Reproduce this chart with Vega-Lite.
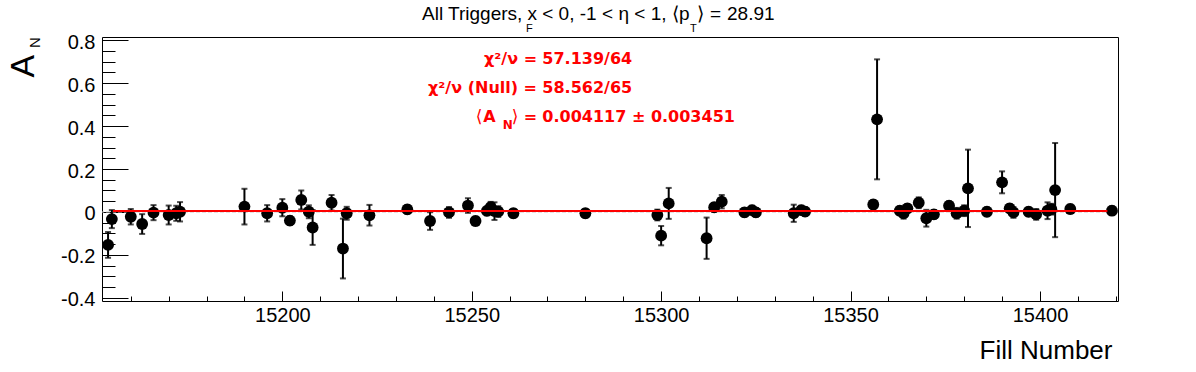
{
  "$schema": "https://vega.github.io/schema/vega-lite/v6.json",
  "autosize": "none",
  "width": 1016,
  "height": 264,
  "padding": {"left": 102, "top": 37, "right": 78, "bottom": 71},
  "background": "white",
  "config": {
    "view": {"stroke": "black", "strokeWidth": 1},
    "axis": {"grid": false, "domain": false, "tickColor": "black", "tickWidth": 1, "labelColor": "black", "labelFont": "Liberation Sans", "labelFontSize": 20, "titleColor": "black", "titleFont": "Liberation Sans", "titleFontWeight": "normal", "labelOverlap": false, "labelFlush": false}
  },
  "resolve": {"axis": {"x": "independent", "y": "independent"}},
  "data": {"values": [
    {"fill": 15154, "an": -0.153, "err": 0.06},
    {"fill": 15155, "an": -0.033, "err": 0.042},
    {"fill": 15160, "an": -0.022, "err": 0.036},
    {"fill": 15163, "an": -0.056, "err": 0.046},
    {"fill": 15166, "an": -0.003, "err": 0.035},
    {"fill": 15170, "an": -0.014, "err": 0.044},
    {"fill": 15172, "an": -0.006, "err": 0.035},
    {"fill": 15173, "an": 0.001, "err": 0.045},
    {"fill": 15190, "an": 0.025, "err": 0.083},
    {"fill": 15196, "an": -0.006, "err": 0.038},
    {"fill": 15200, "an": 0.02, "err": 0.04},
    {"fill": 15202, "an": -0.04, "err": 0.02},
    {"fill": 15205, "an": 0.056, "err": 0.044},
    {"fill": 15207, "an": 0.001, "err": 0.03},
    {"fill": 15208, "an": -0.072, "err": 0.081},
    {"fill": 15213, "an": 0.043, "err": 0.036},
    {"fill": 15216, "an": -0.17, "err": 0.139},
    {"fill": 15217, "an": -0.006, "err": 0.03},
    {"fill": 15223, "an": -0.015, "err": 0.048},
    {"fill": 15233, "an": 0.012, "err": 0.02},
    {"fill": 15239, "an": -0.042, "err": 0.041},
    {"fill": 15244, "an": -0.002, "err": 0.025},
    {"fill": 15249, "an": 0.03, "err": 0.034},
    {"fill": 15251, "an": -0.042, "err": 0.02},
    {"fill": 15254, "an": 0.005, "err": 0.02},
    {"fill": 15255, "an": 0.022, "err": 0.025},
    {"fill": 15256, "an": 0.004, "err": 0.041},
    {"fill": 15257, "an": 0.002, "err": 0.025},
    {"fill": 15261, "an": -0.006, "err": 0.02},
    {"fill": 15280, "an": -0.006, "err": 0.02},
    {"fill": 15299, "an": -0.014, "err": 0.025},
    {"fill": 15300, "an": -0.11, "err": 0.045},
    {"fill": 15302, "an": 0.04, "err": 0.072},
    {"fill": 15312, "an": -0.122, "err": 0.096},
    {"fill": 15314, "an": 0.022, "err": 0.02},
    {"fill": 15316, "an": 0.048, "err": 0.031},
    {"fill": 15322, "an": -0.002, "err": 0.02},
    {"fill": 15324, "an": 0.009, "err": 0.02},
    {"fill": 15325, "an": -0.002, "err": 0.02},
    {"fill": 15335, "an": -0.006, "err": 0.04},
    {"fill": 15337, "an": 0.009, "err": 0.02},
    {"fill": 15338, "an": 0.002, "err": 0.02},
    {"fill": 15356, "an": 0.035, "err": 0.02},
    {"fill": 15357, "an": 0.431, "err": 0.279},
    {"fill": 15363, "an": 0.006, "err": 0.02},
    {"fill": 15364, "an": -0.006, "err": 0.025},
    {"fill": 15365, "an": 0.017, "err": 0.02},
    {"fill": 15368, "an": 0.043, "err": 0.025},
    {"fill": 15370, "an": -0.029, "err": 0.039},
    {"fill": 15372, "an": -0.011, "err": 0.02},
    {"fill": 15376, "an": 0.029, "err": 0.02},
    {"fill": 15378, "an": -0.006, "err": 0.025},
    {"fill": 15380, "an": 0.006, "err": 0.025},
    {"fill": 15381, "an": 0.11, "err": 0.18},
    {"fill": 15386, "an": 0.001, "err": 0.02},
    {"fill": 15390, "an": 0.138, "err": 0.051},
    {"fill": 15392, "an": 0.017, "err": 0.02},
    {"fill": 15393, "an": -0.002, "err": 0.025},
    {"fill": 15397, "an": 0.001, "err": 0.02},
    {"fill": 15399, "an": -0.011, "err": 0.025},
    {"fill": 15402, "an": 0.006, "err": 0.039},
    {"fill": 15403, "an": 0.013, "err": 0.025},
    {"fill": 15404, "an": 0.102, "err": 0.219},
    {"fill": 15408, "an": 0.014, "err": 0.02},
    {"fill": 15419, "an": 0.006, "err": 0.02}
  ]},
  "layer": [
    {
      "data": {"values": [{}]},
      "mark": {"type": "rule", "color": "#c4c4c4", "strokeWidth": 1, "strokeDash": [4, 2]},
      "encoding": {"y": {"datum": 0, "type": "quantitative", "scale": {"domain": [-0.414, 0.814], "nice": false, "zero": false}, "axis": null}}
    },
    {
      "mark": {"type": "errorbar", "color": "black", "thickness": 2, "ticks": {"size": 6, "thickness": 2, "color": "black"}, "rule": {"strokeWidth": 2, "color": "black"}},
      "encoding": {
        "x": {"field": "fill", "type": "quantitative", "scale": {"domain": [15152.4, 15420.6], "nice": false, "zero": false}, "axis": null},
        "y": {"field": "an", "type": "quantitative", "scale": {"domain": [-0.414, 0.814], "nice": false, "zero": false}, "axis": null},
        "yError": {"field": "err"}
      }
    },
    {
      "mark": {"type": "circle", "size": 140, "color": "black", "opacity": 1},
      "encoding": {
        "x": {"field": "fill", "type": "quantitative", "scale": {"domain": [15152.4, 15420.6], "nice": false, "zero": false},
          "axis": {"orient": "bottom", "title": "Fill Number", "titleFontSize": 26, "titleAlign": "right", "titleBaseline": "alphabetic", "titleX": 1010, "titleY": 57, "titleAngle": 0,
            "values": [15200, 15250, 15300, 15350, 15400],
            "tickSize": -10,
            "labelExpr": "toString(datum.value)",
            "labelPadding": 14}},
        "y": {"field": "an", "type": "quantitative", "scale": {"domain": [-0.414, 0.814], "nice": false, "zero": false},
          "axis": {"orient": "left", "title": "A", "titleFontSize": 34, "titleAngle": 270, "titleAlign": "left", "titleBaseline": "alphabetic", "titleX": -69, "titleY": 40,
            "values": [-0.4, -0.2, 0, 0.2, 0.4, 0.6, 0.8],
            "tickSize": -26,
            "labelExpr": "toString(datum.value)",
            "labelPadding": 33, "labelBaseline": "middle", "labelOffset": 2}}
      }
    },
    {
      "data": {"values": [{}]},
      "mark": {"type": "rule", "color": "#ff0000", "strokeWidth": 2},
      "encoding": {
        "x": {"datum": 15155.3, "type": "quantitative", "scale": {"domain": [15152.4, 15420.6], "nice": false, "zero": false},
          "axis": {"orient": "bottom", "title": null, "labels": false, "tickSize": -5,
            "values": [15160, 15170, 15180, 15190, 15210, 15220, 15230, 15240, 15260, 15270, 15280, 15290, 15310, 15320, 15330, 15340, 15360, 15370, 15380, 15390, 15410, 15420]}},
        "x2": {"datum": 15417.8},
        "y": {"datum": 0.004117, "type": "quantitative", "scale": {"domain": [-0.414, 0.814], "nice": false, "zero": false},
          "axis": {"orient": "left", "title": null, "labels": false, "tickSize": -13,
            "values": [-0.35, -0.3, -0.25, -0.15, -0.1, -0.05, 0.05, 0.1, 0.15, 0.25, 0.3, 0.35, 0.45, 0.5, 0.55, 0.65, 0.7, 0.75]}}
      }
    },
    {
      "data": {"values": [{}]},
      "mark": {"type": "text", "text": "All Triggers, x", "font": "Liberation Sans", "fontSize": 19, "color": "black", "align": "left", "baseline": "alphabetic"},
      "encoding": {
        "x": {"datum": 15236.88, "type": "quantitative", "scale": {"domain": [15152.4, 15420.6], "nice": false, "zero": false}, "axis": null},
        "y": {"datum": 0.892, "type": "quantitative", "scale": {"domain": [-0.414, 0.814], "nice": false, "zero": false}, "axis": null}
      }
    },
    {
      "data": {"values": [{}]},
      "mark": {"type": "text", "text": "F", "font": "Liberation Sans", "fontSize": 11, "color": "black", "align": "left", "baseline": "alphabetic"},
      "encoding": {
        "x": {"datum": 15264.33, "type": "quantitative", "scale": {"domain": [15152.4, 15420.6], "nice": false, "zero": false}, "axis": null},
        "y": {"datum": 0.8373, "type": "quantitative", "scale": {"domain": [-0.414, 0.814], "nice": false, "zero": false}, "axis": null}
      }
    },
    {
      "data": {"values": [{}]},
      "mark": {"type": "text", "text": "< 0, -1", "font": "Liberation Sans", "fontSize": 19, "color": "black", "align": "left", "baseline": "alphabetic"},
      "encoding": {
        "x": {"datum": 15268.6, "type": "quantitative", "scale": {"domain": [15152.4, 15420.6], "nice": false, "zero": false}, "axis": null},
        "y": {"datum": 0.892, "type": "quantitative", "scale": {"domain": [-0.414, 0.814], "nice": false, "zero": false}, "axis": null}
      }
    },
    {
      "data": {"values": [{}]},
      "mark": {"type": "text", "text": "< η < 1,", "font": "Liberation Sans", "fontSize": 19, "color": "black", "align": "left", "baseline": "alphabetic"},
      "encoding": {
        "x": {"datum": 15284.4, "type": "quantitative", "scale": {"domain": [15152.4, 15420.6], "nice": false, "zero": false}, "axis": null},
        "y": {"datum": 0.892, "type": "quantitative", "scale": {"domain": [-0.414, 0.814], "nice": false, "zero": false}, "axis": null}
      }
    },
    {
      "data": {"values": [{}]},
      "mark": {"type": "text", "text": "⟨p", "font": "Liberation Sans", "fontSize": 19, "color": "black", "align": "left", "baseline": "alphabetic"},
      "encoding": {
        "x": {"datum": 15302.88, "type": "quantitative", "scale": {"domain": [15152.4, 15420.6], "nice": false, "zero": false}, "axis": null},
        "y": {"datum": 0.892, "type": "quantitative", "scale": {"domain": [-0.414, 0.814], "nice": false, "zero": false}, "axis": null}
      }
    },
    {
      "data": {"values": [{}]},
      "mark": {"type": "text", "text": "T", "font": "Liberation Sans", "fontSize": 11, "color": "black", "align": "left", "baseline": "alphabetic"},
      "encoding": {
        "x": {"datum": 15307.63, "type": "quantitative", "scale": {"domain": [15152.4, 15420.6], "nice": false, "zero": false}, "axis": null},
        "y": {"datum": 0.8373, "type": "quantitative", "scale": {"domain": [-0.414, 0.814], "nice": false, "zero": false}, "axis": null}
      }
    },
    {
      "data": {"values": [{}]},
      "mark": {"type": "text", "text": "⟩", "font": "Liberation Sans", "fontSize": 19, "color": "black", "align": "left", "baseline": "alphabetic"},
      "encoding": {
        "x": {"datum": 15309.47, "type": "quantitative", "scale": {"domain": [15152.4, 15420.6], "nice": false, "zero": false}, "axis": null},
        "y": {"datum": 0.892, "type": "quantitative", "scale": {"domain": [-0.414, 0.814], "nice": false, "zero": false}, "axis": null}
      }
    },
    {
      "data": {"values": [{}]},
      "mark": {"type": "text", "text": "=", "font": "Liberation Sans", "fontSize": 19, "color": "black", "align": "left", "baseline": "alphabetic"},
      "encoding": {
        "x": {"datum": 15312.91, "type": "quantitative", "scale": {"domain": [15152.4, 15420.6], "nice": false, "zero": false}, "axis": null},
        "y": {"datum": 0.892, "type": "quantitative", "scale": {"domain": [-0.414, 0.814], "nice": false, "zero": false}, "axis": null}
      }
    },
    {
      "data": {"values": [{}]},
      "mark": {"type": "text", "text": "28.91", "font": "Liberation Sans", "fontSize": 19, "color": "black", "align": "center", "baseline": "alphabetic"},
      "encoding": {
        "x": {"datum": 15323.67, "type": "quantitative", "scale": {"domain": [15152.4, 15420.6], "nice": false, "zero": false}, "axis": null},
        "y": {"datum": 0.892, "type": "quantitative", "scale": {"domain": [-0.414, 0.814], "nice": false, "zero": false}, "axis": null}
      }
    },
    {
      "data": {"values": [{}]},
      "mark": {"type": "text", "text": "χ²/ν =", "font": "DejaVu Sans", "fontWeight": "bold", "fontSize": 16, "color": "#ff0000", "align": "right", "baseline": "alphabetic"},
      "encoding": {
        "x": {"datum": 15267.24, "type": "quantitative", "scale": {"domain": [15152.4, 15420.6], "nice": false, "zero": false}, "axis": null},
        "y": {"datum": 0.6884, "type": "quantitative", "scale": {"domain": [-0.414, 0.814], "nice": false, "zero": false}, "axis": null}
      }
    },
    {
      "data": {"values": [{}]},
      "mark": {"type": "text", "text": "57.139/64", "font": "DejaVu Sans", "fontWeight": "bold", "fontSize": 16, "color": "#ff0000", "align": "left", "baseline": "alphabetic"},
      "encoding": {
        "x": {"datum": 15268.64, "type": "quantitative", "scale": {"domain": [15152.4, 15420.6], "nice": false, "zero": false}, "axis": null},
        "y": {"datum": 0.6884, "type": "quantitative", "scale": {"domain": [-0.414, 0.814], "nice": false, "zero": false}, "axis": null}
      }
    },
    {
      "data": {"values": [{}]},
      "mark": {"type": "text", "text": "χ²/ν (Null) =", "font": "DejaVu Sans", "fontWeight": "bold", "fontSize": 16, "color": "#ff0000", "align": "right", "baseline": "alphabetic"},
      "encoding": {
        "x": {"datum": 15267.24, "type": "quantitative", "scale": {"domain": [15152.4, 15420.6], "nice": false, "zero": false}, "axis": null},
        "y": {"datum": 0.5521, "type": "quantitative", "scale": {"domain": [-0.414, 0.814], "nice": false, "zero": false}, "axis": null}
      }
    },
    {
      "data": {"values": [{}]},
      "mark": {"type": "text", "text": "58.562/65", "font": "DejaVu Sans", "fontWeight": "bold", "fontSize": 16, "color": "#ff0000", "align": "left", "baseline": "alphabetic"},
      "encoding": {
        "x": {"datum": 15268.64, "type": "quantitative", "scale": {"domain": [15152.4, 15420.6], "nice": false, "zero": false}, "axis": null},
        "y": {"datum": 0.5521, "type": "quantitative", "scale": {"domain": [-0.414, 0.814], "nice": false, "zero": false}, "axis": null}
      }
    },
    {
      "data": {"values": [{}]},
      "mark": {"type": "text", "text": "⟨", "font": "DejaVu Sans", "fontSize": 17, "color": "#ff0000", "align": "left", "baseline": "alphabetic"},
      "encoding": {
        "x": {"datum": 15251.05, "type": "quantitative", "scale": {"domain": [15152.4, 15420.6], "nice": false, "zero": false}, "axis": null},
        "y": {"datum": 0.42, "type": "quantitative", "scale": {"domain": [-0.414, 0.814], "nice": false, "zero": false}, "axis": null}
      }
    },
    {
      "data": {"values": [{}]},
      "mark": {"type": "text", "text": "A", "font": "DejaVu Sans", "fontWeight": "bold", "fontSize": 16, "color": "#ff0000", "align": "left", "baseline": "alphabetic"},
      "encoding": {
        "x": {"datum": 15253.06, "type": "quantitative", "scale": {"domain": [15152.4, 15420.6], "nice": false, "zero": false}, "axis": null},
        "y": {"datum": 0.42, "type": "quantitative", "scale": {"domain": [-0.414, 0.814], "nice": false, "zero": false}, "axis": null}
      }
    },
    {
      "data": {"values": [{}]},
      "mark": {"type": "text", "text": "N", "font": "DejaVu Sans", "fontWeight": "bold", "fontSize": 12, "color": "#ff0000", "align": "left", "baseline": "alphabetic"},
      "encoding": {
        "x": {"datum": 15258.18, "type": "quantitative", "scale": {"domain": [15152.4, 15420.6], "nice": false, "zero": false}, "axis": null},
        "y": {"datum": 0.3847, "type": "quantitative", "scale": {"domain": [-0.414, 0.814], "nice": false, "zero": false}, "axis": null}
      }
    },
    {
      "data": {"values": [{}]},
      "mark": {"type": "text", "text": "⟩", "font": "DejaVu Sans", "fontSize": 17, "color": "#ff0000", "align": "left", "baseline": "alphabetic"},
      "encoding": {
        "x": {"datum": 15260.56, "type": "quantitative", "scale": {"domain": [15152.4, 15420.6], "nice": false, "zero": false}, "axis": null},
        "y": {"datum": 0.42, "type": "quantitative", "scale": {"domain": [-0.414, 0.814], "nice": false, "zero": false}, "axis": null}
      }
    },
    {
      "data": {"values": [{}]},
      "mark": {"type": "text", "text": "=", "font": "DejaVu Sans", "fontWeight": "bold", "fontSize": 16, "color": "#ff0000", "align": "right", "baseline": "alphabetic"},
      "encoding": {
        "x": {"datum": 15267.24, "type": "quantitative", "scale": {"domain": [15152.4, 15420.6], "nice": false, "zero": false}, "axis": null},
        "y": {"datum": 0.42, "type": "quantitative", "scale": {"domain": [-0.414, 0.814], "nice": false, "zero": false}, "axis": null}
      }
    },
    {
      "data": {"values": [{}]},
      "mark": {"type": "text", "text": "0.004117 ± 0.003451", "font": "DejaVu Sans", "fontWeight": "bold", "fontSize": 16, "color": "#ff0000", "align": "left", "baseline": "alphabetic"},
      "encoding": {
        "x": {"datum": 15268.64, "type": "quantitative", "scale": {"domain": [15152.4, 15420.6], "nice": false, "zero": false}, "axis": null},
        "y": {"datum": 0.42, "type": "quantitative", "scale": {"domain": [-0.414, 0.814], "nice": false, "zero": false}, "axis": null}
      }
    },
    {
      "data": {"values": [{}]},
      "mark": {"type": "text", "text": "N", "font": "Liberation Sans", "fontSize": 15, "color": "black", "align": "left", "baseline": "alphabetic", "angle": 270},
      "encoding": {
        "x": {"datum": 15136.03, "type": "quantitative", "scale": {"domain": [15152.4, 15420.6], "nice": false, "zero": false}, "axis": null},
        "y": {"datum": 0.7628, "type": "quantitative", "scale": {"domain": [-0.414, 0.814], "nice": false, "zero": false}, "axis": null}
      }
    }
  ]
}
